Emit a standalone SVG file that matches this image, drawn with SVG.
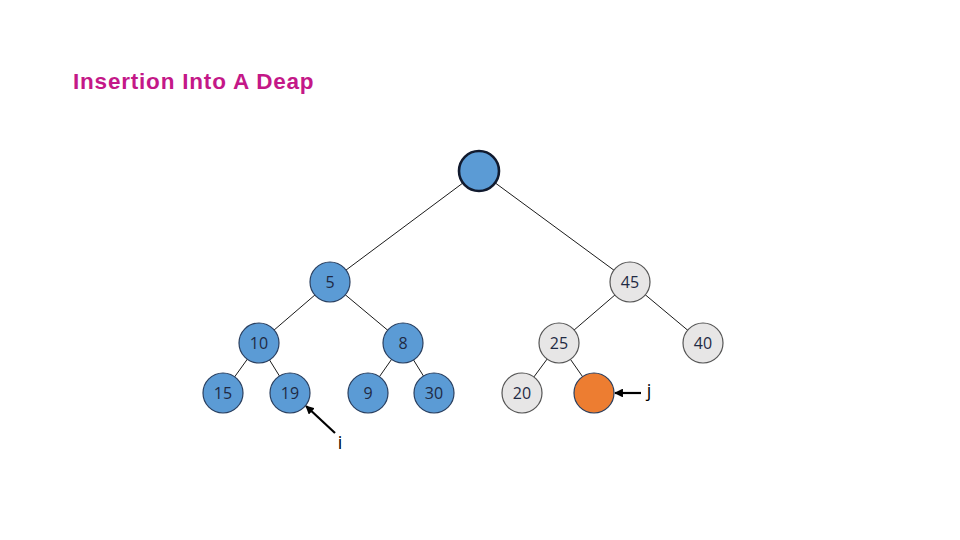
<svg xmlns="http://www.w3.org/2000/svg" width="960" height="540" viewBox="0 0 960 540">
<defs>
<style>
.blue{fill:#5B9BD5;stroke:#2A3F5F;stroke-width:1.2}
.gray{fill:#E7E6E6;stroke:#555;stroke-width:1.2}
.orange{fill:#ED7D31;stroke:#2A3F5F;stroke-width:1.2}
.lbl{font-family:"Open Sans","Liberation Sans",sans-serif;font-size:16px;text-anchor:middle;fill:#1F2A44}
.ptrlbl{font-family:"Open Sans","Liberation Sans",sans-serif;font-size:18px;text-anchor:middle;fill:#000}
.edge{stroke:#000;stroke-width:0.9}
.ptr{stroke:#000;stroke-width:2.2}
</style>
<marker id="ah" viewBox="0 0 10 10" refX="9" refY="5" markerWidth="4" markerHeight="4" orient="auto"><path d="M0,0L10,5L0,10z" fill="#000"/></marker>
</defs>
<rect width="960" height="540" fill="#fff"/>
<text x="73" y="89" font-family="Liberation Sans,Arial,sans-serif" font-size="22.5" font-weight="bold" letter-spacing="0.8" fill="#C41888">Insertion Into A Deap</text>
<g id="connectors">
<line class="edge" x1="479" y1="171" x2="330" y2="282"/>
<line class="edge" x1="479" y1="171" x2="630" y2="282"/>
<line class="edge" x1="330" y1="282" x2="259" y2="343"/>
<line class="edge" x1="330" y1="282" x2="403" y2="343"/>
<line class="edge" x1="630" y1="282" x2="559" y2="343"/>
<line class="edge" x1="630" y1="282" x2="703" y2="343"/>
<line class="edge" x1="259" y1="343" x2="223" y2="393"/>
<line class="edge" x1="259" y1="343" x2="290" y2="393"/>
<line class="edge" x1="403" y1="343" x2="368" y2="393"/>
<line class="edge" x1="403" y1="343" x2="434" y2="393"/>
<line class="edge" x1="559" y1="343" x2="522" y2="393"/>
<line class="edge" x1="559" y1="343" x2="594" y2="393"/>
<line class="ptr" x1="335" y1="433" x2="306" y2="406" marker-end="url(#ah)"/>
<line class="ptr" x1="641" y1="393" x2="615" y2="393" marker-end="url(#ah)"/>
</g>
<g id="root"><circle cx="479" cy="171" r="20" fill="#5B9BD5" stroke="#111a2e" stroke-width="2.6"/></g>
<g id="n5"><circle class="blue" cx="330" cy="282" r="20"/><text class="lbl" x="330" y="288">5</text></g>
<g id="n45"><circle class="gray" cx="630" cy="282" r="20"/><text class="lbl" x="630" y="288">45</text></g>
<g id="n10"><circle class="blue" cx="259" cy="343" r="20"/><text class="lbl" x="259" y="349">10</text></g>
<g id="n8"><circle class="blue" cx="403" cy="343" r="20"/><text class="lbl" x="403" y="349">8</text></g>
<g id="n25"><circle class="gray" cx="559" cy="343" r="20"/><text class="lbl" x="559" y="349">25</text></g>
<g id="n40"><circle class="gray" cx="703" cy="343" r="20"/><text class="lbl" x="703" y="349">40</text></g>
<g id="n15"><circle class="blue" cx="223" cy="393" r="20"/><text class="lbl" x="223" y="399">15</text></g>
<g id="n19"><circle class="blue" cx="290" cy="393" r="20"/><text class="lbl" x="290" y="399">19</text></g>
<g id="n9"><circle class="blue" cx="368" cy="393" r="20"/><text class="lbl" x="368" y="399">9</text></g>
<g id="n30"><circle class="blue" cx="434" cy="393" r="20"/><text class="lbl" x="434" y="399">30</text></g>
<g id="n20"><circle class="gray" cx="522" cy="393" r="20"/><text class="lbl" x="522" y="399">20</text></g>
<g id="nnew"><circle class="orange" cx="594" cy="393" r="20"/></g>
<text class="ptrlbl" x="340" y="449">i</text>
<text class="ptrlbl" x="649" y="397">j</text>
</svg>
